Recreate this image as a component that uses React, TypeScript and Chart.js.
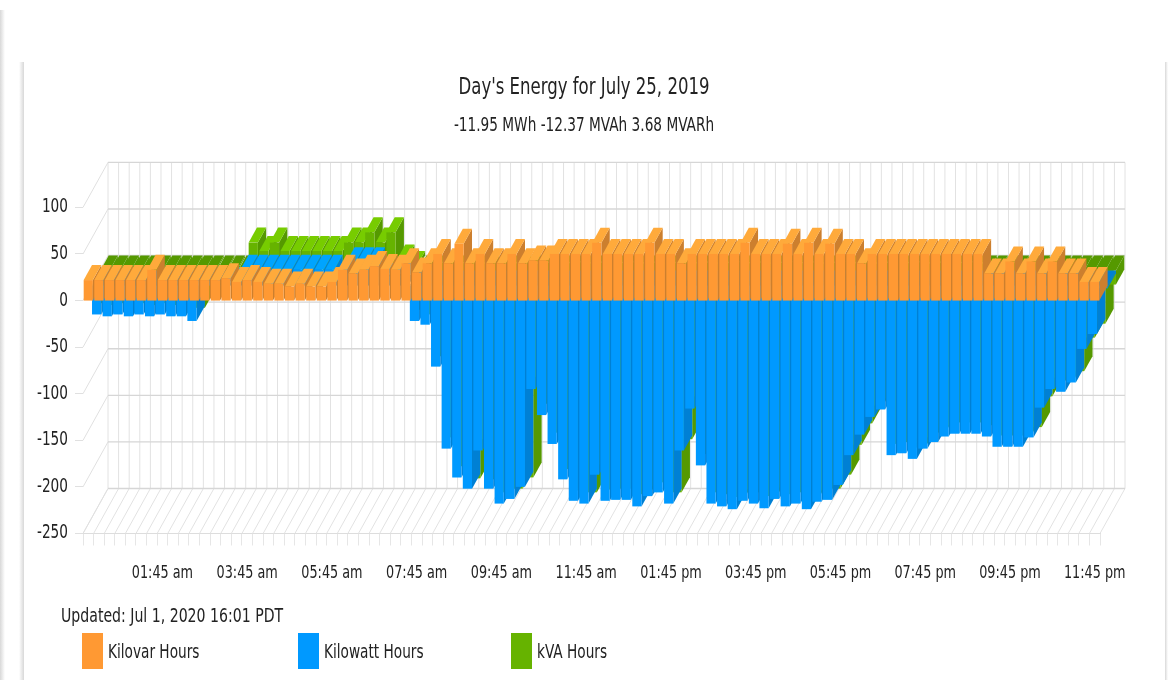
import React, { useEffect, useRef } from "react";
import { Chart, registerables } from "chart.js";

Chart.register(...registerables);

const categories = [
  "12:00 am","12:15 am","12:30 am","12:45 am","01:00 am","01:15 am","01:30 am","01:45 am",
  "02:00 am","02:15 am","02:30 am","02:45 am","03:00 am","03:15 am","03:30 am","03:45 am",
  "04:00 am","04:15 am","04:30 am","04:45 am","05:00 am","05:15 am","05:30 am","05:45 am",
  "06:00 am","06:15 am","06:30 am","06:45 am","07:00 am","07:15 am","07:30 am","07:45 am",
  "08:00 am","08:15 am","08:30 am","08:45 am","09:00 am","09:15 am","09:30 am","09:45 am",
  "10:00 am","10:15 am","10:30 am","10:45 am","11:00 am","11:15 am","11:30 am","11:45 am",
  "12:00 pm","12:15 pm","12:30 pm","12:45 pm","01:00 pm","01:15 pm","01:30 pm","01:45 pm",
  "02:00 pm","02:15 pm","02:30 pm","02:45 pm","03:00 pm","03:15 pm","03:30 pm","03:45 pm",
  "04:00 pm","04:15 pm","04:30 pm","04:45 pm","05:00 pm","05:15 pm","05:30 pm","05:45 pm",
  "06:00 pm","06:15 pm","06:30 pm","06:45 pm","07:00 pm","07:15 pm","07:30 pm","07:45 pm",
  "08:00 pm","08:15 pm","08:30 pm","08:45 pm","09:00 pm","09:15 pm","09:30 pm","09:45 pm",
  "10:00 pm","10:15 pm","10:30 pm","10:45 pm","11:00 pm","11:15 pm","11:30 pm","11:45 pm",
];

const kilovarHours = [
  22,22,22,22,22,22,33,22,
  22,22,22,22,22,24,20,22,
  20,18,18,15,18,15,15,20,
  33,29,33,37,34,33,40,30,
  40,50,40,61,40,50,40,40,
  50,40,43,43,50,50,50,50,
  62,50,50,50,50,62,50,50,
  40,50,50,50,50,50,62,50,
  50,50,61,50,62,50,61,50,
  50,40,50,50,50,50,50,50,
  50,50,50,50,50,29,29,42,
  29,42,29,42,29,29,20,20,
];

const kilowattHours = [
  -31,-33,-31,-33,-31,-33,-31,-33,
  -33,-38,3,3,3,3,17,17,
  17,17,17,17,17,17,17,10,
  25,25,25,8,8,8,-38,-42,
  -87,-175,-206,-218,-177,-218,-234,-229,
  -216,-111,-139,-170,-208,-231,-234,-203,
  -231,-230,-230,-237,-226,-222,-234,-177,
  -132,-193,-234,-237,-240,-231,-234,-239,
  -229,-237,-234,-240,-232,-230,-214,-182,
  -160,-141,-133,-182,-180,-186,-175,-168,
  -162,-159,-159,-159,-162,-173,-173,-173,
  -163,-131,-111,-114,-104,-68,-52,-3,
];

const kvaHours = [
  -35,-37,-35,-37,-35,-37,-35,-37,
  -37,-40,-2,-2,-2,-2,30,21,
  30,21,21,21,21,21,21,30,
  30,41,30,41,12,5,-42,-47,
  -92,-179,-210,-223,-181,-224,-238,-234,
  -222,-114,-143,-174,-213,-236,-238,-208,
  -235,-234,-234,-240,-231,-227,-238,-181,
  -135,-197,-238,-240,-243,-235,-238,-242,
  -233,-240,-238,-243,-236,-234,-219,-187,
  -164,-145,-137,-186,-184,-190,-179,-172,
  -166,-163,-163,-163,-166,-177,-177,-177,
  -168,-135,-115,-118,-108,-72,-57,-15,
];

const seriesNames = ["Kilovar Hours", "Kilowatt Hours", "kVA Hours"];
const frontColors = ["#FF9933", "#0099FF", "#66B300"];
const topColors = ["#FFAA3B", "#00A4FF", "#77CC00"];
const sideColors = ["#CC7F2E", "#0080D4", "#559900"];
const legendX = [82, 298, 511];

const TITLE = "Day's Energy for July 25, 2019";
const SUBTITLE = "-11.95 MWh -12.37 MVAh 3.68 MVARh";
const UPDATED = "Updated: Jul 1, 2020 16:01 PDT";

const FONT = '"DejaVu Sans Condensed", "DejaVu Sans", sans-serif';
const TEXT_SQUEEZE = 0.8;
const SERIES_DX = 8.33;
const SERIES_DY = 15;
const WALL_DX = 25;
const WALL_DY = 45;

function poly(ctx: CanvasRenderingContext2D, pts: number[][], color: string) {
  ctx.fillStyle = color;
  ctx.beginPath();
  pts.forEach((p, i) => (i ? ctx.lineTo(p[0], p[1]) : ctx.moveTo(p[0], p[1])));
  ctx.closePath();
  ctx.fill();
}

const depthPlugin = {
  id: "depth3d",
  beforeDraw(chart: any) {
    const ctx = chart.ctx;
    const proto = CanvasRenderingContext2D.prototype.fillText;
    ctx.fillText = function (text: string, x: number, y: number) {
      ctx.save();
      ctx.translate(x, y);
      ctx.scale(TEXT_SQUEEZE, 1);
      proto.call(ctx, text, 0, 0);
      ctx.restore();
    };
  },
  beforeDatasetsDraw(chart: any) {
    const { ctx, chartArea: a, scales } = chart;
    const y = scales.y;
    const x = scales.x;
    ctx.save();
    const line = (x0: number, y0: number, x1: number, y1: number) => {
      ctx.beginPath();
      ctx.moveTo(x0, y0);
      ctx.lineTo(x1, y1);
      ctx.stroke();
    };
    ctx.strokeStyle = "#e2e2e2";
    ctx.lineWidth = 1;
    const step = (a.right - a.left) / categories.length;
    for (let i = 0; i <= categories.length; i++) {
      const px = x.getPixelForValue(0) - step / 2 + i * step;
      line(px + WALL_DX, a.top - WALL_DY, px + WALL_DX, a.bottom - WALL_DY);
      line(px, a.bottom, px + WALL_DX, a.bottom - WALL_DY);
    }
    y.ticks.forEach((t: any) => {
      const py = y.getPixelForValue(t.value);
      ctx.strokeStyle = "#e0e0e0";
      ctx.lineWidth = 1;
      line(a.left, py, a.left + WALL_DX, py - WALL_DY);
      ctx.strokeStyle = "#d6d6d6";
      ctx.lineWidth = 1.4;
      line(a.left + WALL_DX, py - WALL_DY, a.right + WALL_DX, py - WALL_DY);
    });
    ctx.restore();
  },
  beforeDatasetDraw(chart: any, args: any) {
    const { ctx } = chart;
    const k = args.index;
    const dx = k * SERIES_DX;
    const dy = k * SERIES_DY;
    const sx = SERIES_DX;
    const sy = SERIES_DY;
    const y0 = chart.scales.y.getPixelForValue(0) - dy;
    ctx.save();
    args.meta.data.forEach((el: any) => {
      const p = el.getProps(["x", "y", "width"], true);
      const l = p.x - p.width / 2 + dx;
      const r = p.x + p.width / 2 + dx;
      const v = p.y - dy;
      const positive = v < y0;
      const top = positive ? v : y0;
      const bot = positive ? y0 : v;
      poly(ctx, [[r, bot], [r + sx, bot - sy], [r + sx, top - sy], [r, top]], sideColors[k]);
      poly(ctx, [[l, top], [l + sx, top - sy], [r + sx, top - sy], [r, top]], positive ? topColors[k] : sideColors[k]);
      ctx.fillStyle = frontColors[k];
      ctx.fillRect(l, top, r - l, bot - top);
    });
    ctx.restore();
    return false;
  },
  afterDraw(chart: any) {
    const { ctx } = chart;
    ctx.save();
    ctx.fillStyle = "#222";
    ctx.textBaseline = "middle";
    ctx.textAlign = "left";
    ctx.font = `19.6px ${FONT}`;
    ctx.fillText(UPDATED, 61, 617);
    ctx.font = `19px ${FONT}`;
    chart.data.datasets.forEach((ds: any, i: number) => {
      ctx.fillStyle = frontColors[i];
      ctx.fillRect(legendX[i], 633, 21, 36);
      ctx.fillStyle = "#222";
      ctx.fillText(ds.label, legendX[i] + 26, 653);
    });
    ctx.restore();
  },
};

export default function App() {
  const ref = useRef<HTMLCanvasElement>(null);
  useEffect(() => {
    const chart = new Chart(ref.current as HTMLCanvasElement, {
      type: "bar",
      plugins: [depthPlugin],
      data: {
        labels: categories,
        datasets: [kilovarHours, kilowattHours, kvaHours].map((values, i) => ({
          label: seriesNames[i],
          data: values,
          backgroundColor: frontColors[i],
          grouped: false,
          categoryPercentage: 1,
          barPercentage: 0.87,
          yAxisID: "y",
        })),
      },
      options: {
        responsive: false,
        animation: false,
        layout: { padding: { top: 74, left: 0, right: 0, bottom: 96.5 } },
        plugins: {
          legend: { display: false },
          tooltip: { enabled: false },
          title: {
            display: true,
            text: TITLE,
            color: "#222",
            font: { family: FONT, size: 23, weight: "normal", lineHeight: 1.2 },
            padding: { top: 0, bottom: 13.4 },
          },
          subtitle: {
            display: true,
            text: SUBTITLE,
            color: "#222",
            font: { family: FONT, size: 19, weight: "normal", lineHeight: 1.2 },
            padding: { top: 0, bottom: 69.6 },
          },
        },
        scales: {
          x: {
            afterFit: (s: any) => { s.height = 50; },
            grid: { drawOnChartArea: false, tickLength: 12, color: "#e6e6e6" },
            border: { color: "#dddddd" },
            ticks: {
              autoSkip: false,
              maxRotation: 0,
              padding: 17,
              color: "#222",
              font: { family: FONT, size: 17.8 },
              callback: (_v: any, i: number) => (i % 8 === 7 ? categories[i] : ""),
            },
          },
          y: {
            min: -250,
            max: 100,
            afterFit: (s: any) => { s.width = 83; },
            grid: { drawOnChartArea: false, tickLength: 8, color: "#e0e0e0" },
            border: { display: false },
            ticks: {
              stepSize: 50,
              padding: 7,
              color: "#222",
              font: { family: FONT, size: 19 },
            },
          },
          rightGutter: {
            axis: "y",
            position: "right",
            min: -250,
            max: 100,
            afterFit: (s: any) => { s.width = 68; },
            grid: { display: false },
            border: { display: false },
            ticks: { display: false },
          },
        },
      } as any,
    });
    return () => chart.destroy();
  }, []);

  const shade = (left: number, top: number, width: number, dir: string) => (
    <div style={{ position: "fixed", left, top, width, bottom: 0, background: `linear-gradient(to ${dir}, #d8d8d8, #ffffff)` }} />
  );

  return (
    <div style={{ position: "fixed", left: 0, top: 0, width: 1168, height: 680, background: "#fff", overflow: "hidden" }}>
      {shade(0, 10, 5, "right")}
      {shade(19, 62, 5, "left")}
      {shade(1165, 62, 3, "right")}
      <canvas
        ref={ref}
        width={1168}
        height={680}
        style={{ position: "absolute", left: 0, top: 0, width: 1168, height: 680, filter: "blur(0.7px)" }}
      />
    </div>
  );
}
